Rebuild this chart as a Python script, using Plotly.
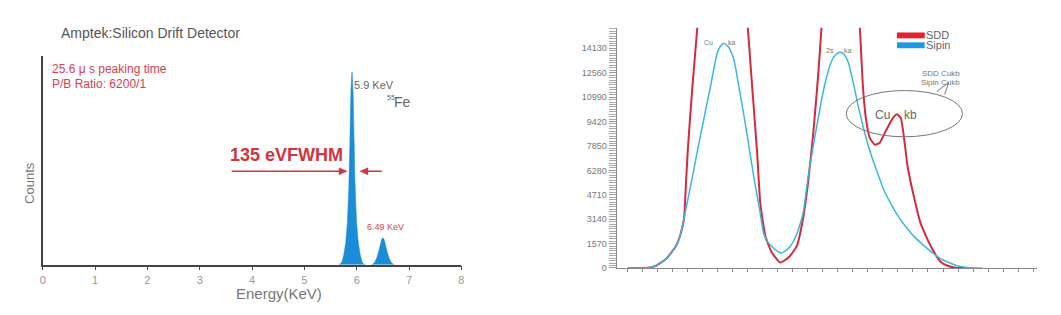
import plotly.graph_objects as go

W, H = 1061, 315

# ---------------- Left panel data (Amptek SDD, 55Fe spectrum) ----------------
energy_main = [5.66, 5.71, 5.75, 5.79, 5.82, 5.85, 5.87, 5.89, 5.91, 5.93, 5.95, 5.97, 6.00, 6.03, 6.07, 6.11, 6.16]
counts_main = [0, 10, 45, 110, 200, 380, 600, 830, 925, 830, 600, 380, 200, 110, 45, 10, 0]
energy_kb = [6.28, 6.33, 6.37, 6.41, 6.45, 6.48, 6.50, 6.52, 6.55, 6.59, 6.63, 6.67, 6.72]
counts_kb = [0, 8, 25, 55, 95, 122, 129, 122, 95, 55, 25, 8, 0]
energy_ticks = [0, 1, 2, 3, 4, 5, 6, 7, 8]

# ---------------- Right panel data (SDD vs Si-PIN) ----------------
chan_sipin = [0.0, 0.77, 1.44, 1.88, 2.54, 3.21, 3.54, 3.75, 4.19, 4.62, 4.95, 5.28, 5.61, 5.94, 6.17, 6.40, 6.73,
              7.06, 7.39, 7.79, 8.19, 8.45, 8.72, 9.05, 9.32, 9.58, 9.85, 10.18, 10.51, 10.84, 11.17,
              11.37, 11.70, 12.03, 12.36, 12.89, 13.22, 13.55, 13.88, 14.15, 14.41, 14.68, 15.01,
              15.34, 15.67, 16.00, 16.34, 16.67, 17.06, 17.53, 17.99, 18.65, 19.18, 19.77, 20.31,
              20.84, 21.43, 21.96, 22.49, 22.96, 23.6]
counts_sipin = [0, 0, 30, 145, 570, 1410, 2250, 3200, 5300, 7440, 9010, 10600, 12170, 13770, 14260, 14450, 14200,
                13440, 11730, 9510, 7110, 5530, 4130, 2230, 1660, 1410, 1160, 970, 1100, 1410, 1980,
                2490, 3630, 5970, 7870, 10710, 12170, 13250, 13750, 13880, 13750, 13250, 11980,
                10460, 9130, 7930, 6920, 6030, 5020, 4130, 3370, 2490, 1920, 1410, 970,
                590, 340, 145, 50, 0, 0]

chan_sdd = [0.0, 0.77, 1.44, 1.88, 2.54, 3.21, 3.54, 3.75, 3.88, 4.00, 4.30, 4.64, 4.95, 5.6, 6.3,
            7.0, 7.65, 7.99, 8.28, 8.61, 8.83, 9.17, 9.60, 10.16, 10.71, 11.26, 11.70, 12.03,
            12.36, 12.69, 12.91, 13.3, 14.2, 15.1, 15.46, 15.66, 15.86, 16.12, 16.46, 16.79,
            17.19, 17.66, 17.93, 18.19, 18.46, 18.65, 19.18, 19.51, 20.18, 20.84, 21.30, 21.83,
            22.29, 23.0]
counts_sdd = [0, 0, 30, 145, 570, 1410, 2250, 3200, 5500, 7600, 11600, 15550, 19500, 32000, 40000,
              32000, 19500, 15550, 11750, 7530, 4150, 2040, 990, 355, 670, 1410, 3310, 5650,
              8690, 12490, 15530, 22000, 30000, 22000, 15530, 11750, 9640, 8370, 7930, 8060,
              8820, 9640, 9890, 9640, 7930, 6480, 4100, 2870, 1410, 400, 145, 20,
              0, 0]

count_ticks = [0, 1570, 3140, 4710, 6280, 7850, 9420, 10990, 12560, 14130]
channel_ticks = list(range(28))

RED = "#d32a3c"
CYAN = "#3db6de"
GRAY = "#666666"
FW_RED = "#d0343c"


def px(x):
    return x / W


def py(y):
    return 1 - y / H


fig = go.Figure()

# left panel
for ex, cy in ((energy_main, counts_main), (energy_kb, counts_kb)):
    fig.add_trace(go.Scatter(x=ex, y=cy, mode="lines",
                             line=dict(color="#1a8cd8", width=0.5, shape="spline", smoothing=0.6),
                             fill="tozeroy", fillcolor="#1a8cd8", xaxis="x", yaxis="y",
                             showlegend=False, hoverinfo="skip"))

# right panel
fig.add_trace(go.Scatter(x=chan_sdd, y=counts_sdd, mode="lines", name="SDD",
                         line=dict(color=RED, width=2, shape="spline", smoothing=0.5),
                         xaxis="x2", yaxis="y2", showlegend=False))
fig.add_trace(go.Scatter(x=chan_sipin, y=counts_sipin, mode="lines", name="Sipin",
                         line=dict(color=CYAN, width=1.5, shape="spline", smoothing=0.5),
                         xaxis="x2", yaxis="y2", showlegend=False))

ann = []


def text(x, y, s, size, color=GRAY, xanchor="left", bold=False, **kw):
    ann.append(dict(x=px(x), y=py(y), xref="paper", yref="paper", text=f"<b>{s}</b>" if bold else s,
                    showarrow=False, borderpad=0,
                    font=dict(size=size, color=color, family="Liberation Sans"),
                    xanchor=xanchor, yanchor="middle", **kw))


text(57, 34, "Amptek:Silicon Drift Detector", 14, "#555555")
text(48, 70, "25.6 μ s peaking time", 12, "#d8404f")
text(48, 85, "P/B Ratio: 6200/1", 12, "#d8404f")
text(352, 86, "5.9 KeV", 11, "#666666")
text(385, 99, "55", 7, "#666666")
text(392, 104, "Fe", 14, "#666666")
text(227, 158, "135 eVFWHM", 18, FW_RED, bold=True)
text(365, 231, "6.49 KeV", 9, "#d8404f")
text(233, 298, "Energy(KeV)", 15, "#777777")
text(26, 186, "Counts", 13, "#777777", xanchor="center", textangle=-90)

# right panel labels
text(704, 43, "Cu", 7, "#777777")
text(728, 43, "ka", 7, "#777777")
text(827, 51, "2s", 7, "#777777")
text(845, 51, "ka", 7, "#777777")
text(927, 36, "SDD", 11, "#666666")
text(927, 46, "Sipin", 11, "#666666")
text(943, 75, "SDD Cukb", 8, "#777777", xanchor="center")
text(943, 84, "Sipin Cukb", 8, "#777777", xanchor="center")
text(876, 117, "Cu", 12, "#666666")
text(905, 117, "kb", 12, "#666666")

shapes = [
    # FWHM arrows
    dict(type="line", xref="paper", yref="paper", x0=px(230), y0=py(174), x1=px(339), y1=py(174),
         line=dict(color=FW_RED, width=1.5)),
    dict(type="path", xref="paper", yref="paper",
         path=f"M {px(346)},{py(174)} L {px(338)},{py(170.5)} L {px(338)},{py(177.5)} Z",
         fillcolor=FW_RED, line=dict(color=FW_RED, width=0.5)),
    dict(type="line", xref="paper", yref="paper", x0=px(366), y0=py(174), x1=px(381), y1=py(174),
         line=dict(color=FW_RED, width=1.5)),
    dict(type="path", xref="paper", yref="paper",
         path=f"M {px(359)},{py(174)} L {px(367)},{py(170.5)} L {px(367)},{py(177.5)} Z",
         fillcolor=FW_RED, line=dict(color=FW_RED, width=0.5)),
    # legend swatches
    dict(type="rect", xref="paper", yref="paper", x0=px(899), x1=px(927), y0=py(39), y1=py(33),
         fillcolor="#e3222f", line=dict(width=0)),
    dict(type="rect", xref="paper", yref="paper", x0=px(899), x1=px(927), y0=py(49), y1=py(43),
         fillcolor="#1e9be0", line=dict(width=0)),
    # speech bubble
    dict(type="circle", xref="paper", yref="paper", x0=px(848), x1=px(965), y0=py(139), y1=py(92),
         line=dict(color="#777777", width=1)),
    dict(type="line", xref="paper", yref="paper", x0=px(939), y0=py(93), x1=px(951), y1=py(84),
         line=dict(color="#777777", width=1)),
    dict(type="line", xref="paper", yref="paper", x0=px(951), y0=py(84), x1=px(947), y1=py(96),
         line=dict(color="#777777", width=1)),
]

fig.update_layout(
    width=W, height=H, margin=dict(l=0, r=0, t=0, b=0),
    paper_bgcolor="white", plot_bgcolor="white",
    font=dict(family="Liberation Sans", color=GRAY),
    annotations=ann, shapes=shapes,
    xaxis=dict(domain=[px(40), px(461)], range=[0, 8], showgrid=False, zeroline=False,
               showline=True, linecolor="#444444", linewidth=1.5, ticks="outside", ticklen=4,
               tickcolor="#444444", tickvals=energy_ticks, tickfont=dict(size=11, color="#999999"),
               anchor="y", fixedrange=True),
    yaxis=dict(domain=[py(269), py(57)], range=[0, 1000], showgrid=False, zeroline=False,
               showline=True, linecolor="#444444", linewidth=1.5, showticklabels=False, ticks="",
               anchor="x", fixedrange=True),
    xaxis2=dict(domain=[px(617), px(1040)], range=[-0.75, 27.27], showgrid=False, zeroline=False,
                showline=True, linecolor="#888888", linewidth=1, ticks="outside", ticklen=3,
                tickcolor="#888888", tickvals=channel_ticks, showticklabels=False, anchor="y2"),
    yaxis2=dict(domain=[py(272.3), py(28.3)], range=[0, 15447], showgrid=False, zeroline=False,
                showline=True, linecolor="#888888", linewidth=1, ticks="outside", ticklen=7,
                tickcolor="#999999", tickvals=count_ticks, ticktext=[str(v) for v in count_ticks],
                tickfont=dict(size=9, color="#777777"),
                minor=dict(dtick=157, ticks="outside", ticklen=7, tickcolor="#aaaaaa", showgrid=False),
                anchor="x2"),
)

fig.write_html("out.html")
